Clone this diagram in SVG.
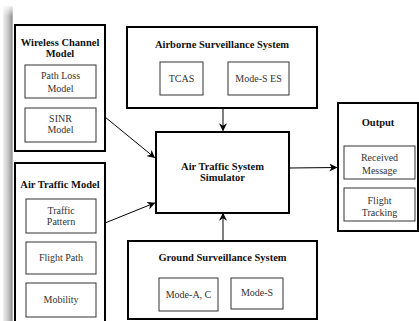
<svg xmlns="http://www.w3.org/2000/svg" width="419" height="321" viewBox="0 0 419 321">
<defs>
<linearGradient id="bar" x1="0" y1="0" x2="1" y2="0">
<stop offset="0" stop-color="#f0f0f0"/>
<stop offset="0.5" stop-color="#c8c8c8"/>
<stop offset="0.85" stop-color="#9a9a9a"/>
<stop offset="1" stop-color="#c0c0c0"/>
</linearGradient>
<linearGradient id="fade" x1="0" y1="0" x2="0" y2="1">
<stop offset="0" stop-color="#fff" stop-opacity="1"/>
<stop offset="1" stop-color="#fff" stop-opacity="0"/>
</linearGradient>
<marker id="ah" viewBox="0 0 10 10" refX="9" refY="5" markerWidth="8" markerHeight="8" markerUnits="userSpaceOnUse" orient="auto">
<path d="M0,0 L10,5 L0,10 L3,5 Z" fill="#000"/>
</marker>
<style>
.outer{fill:#fff;stroke:#000;stroke-width:2}
.inner{fill:#fff;stroke:#333;stroke-width:1}
.t{font-family:"Liberation Serif","Times New Roman",serif;font-weight:bold;font-size:10.5px;fill:#111;text-anchor:middle}
.s{font-family:"Liberation Serif","Times New Roman",serif;font-size:10px;fill:#333;text-anchor:middle}
.c{stroke:#000;stroke-width:1;fill:none;marker-end:url(#ah)}
</style>
</defs>
<rect x="0" y="0" width="419" height="321" fill="#fff"/>
<rect x="3" y="6" width="10" height="315" fill="url(#bar)"/>
<rect x="3" y="4" width="10" height="12" fill="url(#fade)"/>

<g id="wireless">
<rect class="outer" x="15" y="25" width="90" height="126"/>
<text class="t" x="60" y="46">Wireless Channel</text>
<text class="t" x="60" y="57">Model</text>
<g id="pathloss">
<rect class="inner" x="25" y="65" width="71" height="33"/>
<text class="s" x="60.5" y="79">Path Loss</text>
<text class="s" x="60.5" y="92">Model</text>
</g>
<g id="sinr">
<rect class="inner" x="25" y="108" width="71" height="34"/>
<text class="s" x="60.5" y="122">SINR</text>
<text class="s" x="60.5" y="133">Model</text>
</g>
</g>

<g id="airtraffic">
<rect class="outer" x="15" y="163" width="90" height="160"/>
<text class="t" x="60" y="188">Air Traffic Model</text>
<g id="pattern">
<rect class="inner" x="26" y="199" width="70" height="34"/>
<text class="s" x="61" y="214">Traffic</text>
<text class="s" x="61" y="225">Pattern</text>
</g>
<g id="flightpath">
<rect class="inner" x="26" y="242" width="70" height="32"/>
<text class="s" x="61" y="261">Flight Path</text>
</g>
<g id="mobility">
<rect class="inner" x="26" y="283" width="70" height="34"/>
<text class="s" x="61" y="303">Mobility</text>
</g>
</g>

<g id="airborne">
<rect class="outer" x="127" y="27" width="190" height="81"/>
<text class="t" x="222" y="48">Airborne Surveillance System</text>
<g id="tcas">
<rect class="inner" x="160" y="62" width="43" height="33"/>
<text class="s" x="181.5" y="82">TCAS</text>
</g>
<g id="modeses">
<rect class="inner" x="228" y="62" width="61" height="33"/>
<text class="s" x="258.5" y="82">Mode-S ES</text>
</g>
</g>

<g id="simulator">
<rect class="outer" x="156" y="132" width="133" height="81"/>
<text class="t" x="222.5" y="170">Air Traffic System</text>
<text class="t" x="222.5" y="181">Simulator</text>
</g>

<g id="ground">
<rect class="outer" x="128" y="241" width="189" height="78"/>
<text class="t" x="222.5" y="261">Ground Surveillance System</text>
<g id="modeac">
<rect class="inner" x="159" y="278" width="59" height="33"/>
<text class="s" x="188.5" y="298">Mode-A, C</text>
</g>
<g id="modes">
<rect class="inner" x="231" y="278" width="52" height="31"/>
<text class="s" x="257" y="296">Mode-S</text>
</g>
</g>

<g id="output">
<rect class="outer" x="338" y="103" width="80" height="128"/>
<text class="t" x="378" y="126">Output</text>
<g id="received">
<rect class="inner" x="344" y="146" width="71" height="33"/>
<text class="s" x="379.5" y="161">Received</text>
<text class="s" x="379.5" y="174">Message</text>
</g>
<g id="tracking">
<rect class="inner" x="344" y="188" width="71" height="33"/>
<text class="s" x="379.5" y="204">Flight</text>
<text class="s" x="379.5" y="216">Tracking</text>
</g>
</g>

<g id="connectors">
<line class="c" x1="223" y1="108" x2="223" y2="130.5"/>
<line class="c" x1="223" y1="241" x2="223" y2="213.5"/>
<line class="c" x1="289" y1="168" x2="336.5" y2="167.5"/>
<line class="c" x1="105" y1="117" x2="154.5" y2="157.5"/>
<line class="c" x1="105" y1="223" x2="154.5" y2="203"/>
</g>
</svg>
